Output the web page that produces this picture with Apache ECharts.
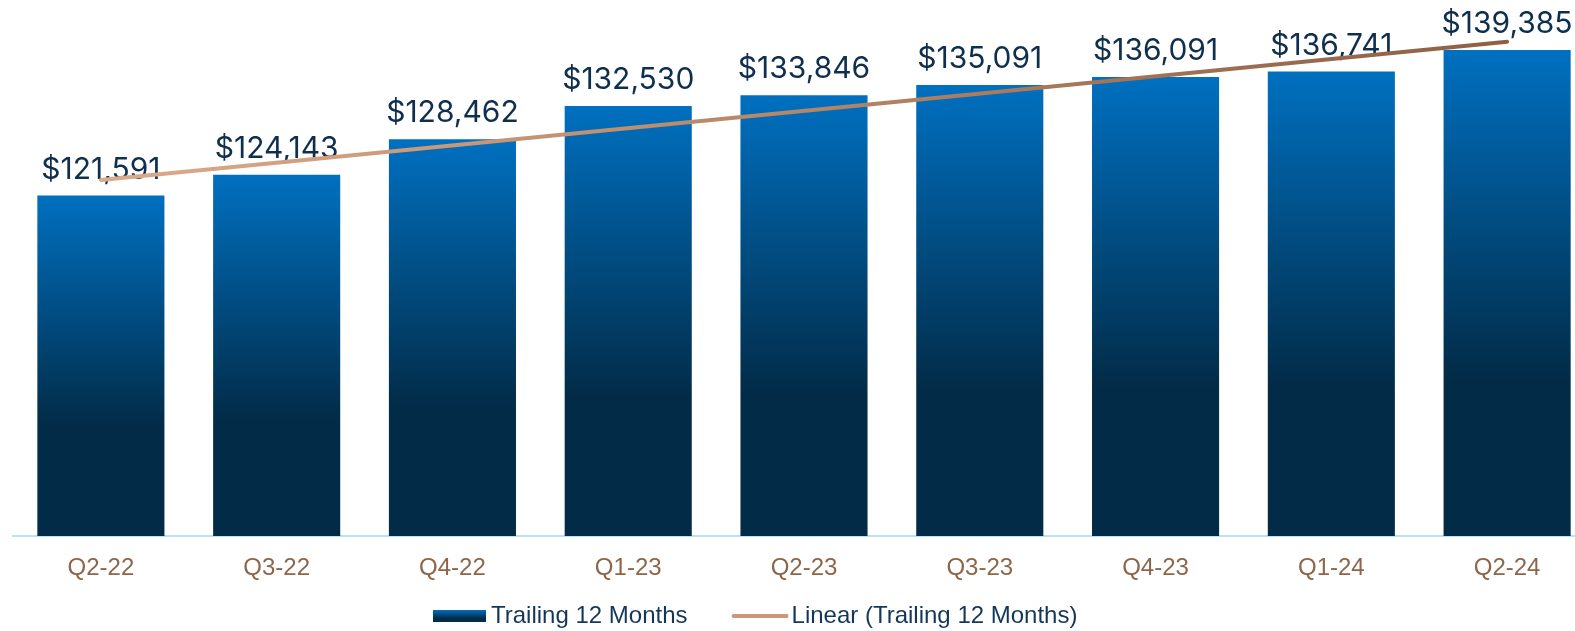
<!DOCTYPE html>
<html>
<head>
<meta charset="utf-8">
<script src="https://cdn.jsdelivr.net/npm/echarts@6/dist/echarts.min.js"></script>
<style>
  html, body { margin: 0; padding: 0; background: #FFFFFF; }
  #chart { width: 1575px; height: 631px; }
</style>
</head>
<body>
<div id="chart"></div>
<script>
// quarters on the x axis
var quarters = ['Q2-22', 'Q3-22', 'Q4-22', 'Q1-23', 'Q2-23', 'Q3-23', 'Q4-23', 'Q1-24', 'Q2-24'];
// trailing 12 months values
var trailing = [121591, 124143, 128462, 132530, 133846, 135091, 136091, 136741, 139385];
// linear trend, read at first and last quarter
var trendEnds = [123500, 140400];

var chart = echarts.init(document.getElementById('chart'));

var barColor = new echarts.graphic.LinearGradient(0, 0, 0, 1, [
  { offset: 0, color: '#0070c0' },
  { offset: 0.68, color: '#022b47' },
  { offset: 1, color: '#022b47' }
]);
var lineColor = new echarts.graphic.LinearGradient(0, 0, 1, 0, [
  { offset: 0, color: '#dcab8b' },
  { offset: 1, color: '#8d5f43' }
]);

var option = {
  animation: false,
  grid: {
    left: 13,
    top: 4,
    width: 1582,
    bottom: 95,
    containLabel: false,
    outerBoundsMode: 'none'
  },
  legend: {
    top: 599,
    left: 428,
    itemWidth: 53,
    itemHeight: 12,
    itemGap: 44,
    textStyle: {
      fontFamily: 'Liberation Sans',
      fontSize: 24,
      color: '#143758'
    },
    data: [
      { name: 'Trailing 12 Months', icon: 'rect' },
      {
        name: 'Linear (Trailing 12 Months)',
        lineStyle: { color: '#c9977a', width: 4 },
        itemStyle: { opacity: 0 }
      }
    ]
  },
  xAxis: {
    type: 'category',
    data: quarters,
    axisLine: { show: true, lineStyle: { color: '#b8e0f8', width: 2 } },
    axisTick: { show: false },
    axisLabel: {
      margin: 20,
      fontFamily: 'Liberation Sans',
      fontSize: 24,
      color: '#8d6649'
    }
  },
  yAxis: {
    type: 'value',
    min: 80000,
    max: 145000,
    show: false,
    splitLine: { show: false }
  },
  series: [
    {
      name: 'Trailing 12 Months',
      type: 'bar',
      barWidth: '72.3%',
      data: trailing,
      itemStyle: { color: barColor },
      label: {
        show: true,
        position: 'top',
        distance: 11,
        fontFamily: 'Inter',
        fontSize: 30,
        color: '#0f2f4e',
        formatter: function (p) {
          return '$' + p.value.toLocaleString('en-US');
        }
      }
    },
    {
      name: 'Linear (Trailing 12 Months)',
      type: 'line',
      symbol: 'none',
      data: [[0, trendEnds[0]], [quarters.length - 1, trendEnds[1]]],
      lineStyle: { color: lineColor, width: 4, cap: 'round' },
      itemStyle: { color: '#c9977a' },
      z: 5
    }
  ]
};

chart.setOption(option, true);
</script>
</body>
</html>
